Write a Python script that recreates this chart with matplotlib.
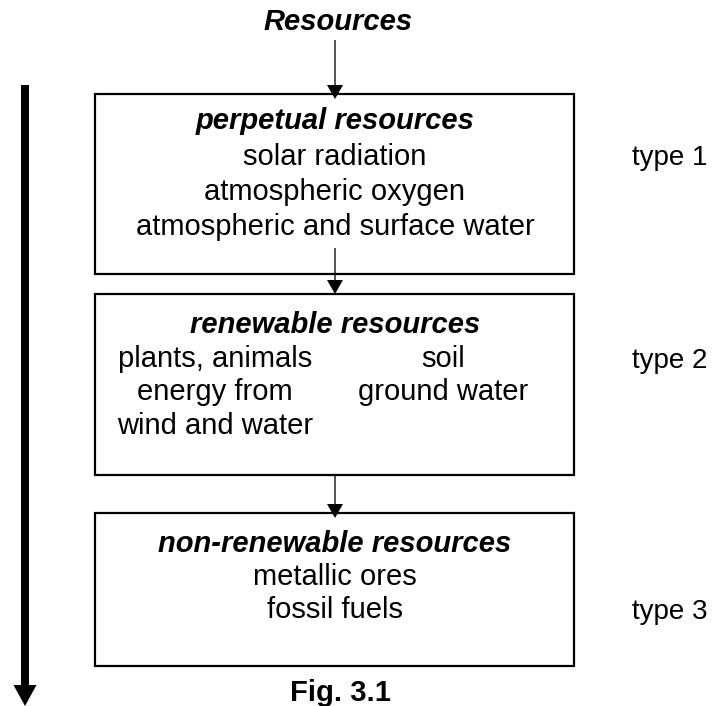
import matplotlib
matplotlib.use("Agg")
import matplotlib.pyplot as plt
from matplotlib.patches import Rectangle

plt.rcParams['font.family'] = ['Liberation Sans', 'DejaVu Sans']

# ---- content ----
top_label = "Resources"
box_titles = ["perpetual resources", "renewable resources", "non-renewable resources"]
box1_items = ["solar radiation", "atmospheric oxygen", "atmospheric and surface water"]
box2_left_items = ["plants, animals", "energy from", "wind and water"]
box2_right_items = ["soil", "ground water"]
box3_items = ["metallic ores", "fossil fuels"]
type_labels = ["type 1", "type 2", "type 3"]
caption = "Fig. 3.1"

# ---- layout (pixel coordinates, y downward; text y = baseline) ----
W, H = 716, 706
box_left, box_right = 95, 574
box_tops = [94, 294, 513]
box_bottoms = [274, 475, 666]
center_x = 335
type_x = 670
type_y = [165, 368, 619]
fs = 21
lh = 34

fig = plt.figure(figsize=(W / 100, H / 100), dpi=100)
ax = fig.add_axes([0, 0, 1, 1])
ax.set_xlim(0, W)
ax.set_ylim(H, 0)
ax.axis('off')

for t, b in zip(box_tops, box_bottoms):
    ax.add_patch(Rectangle((box_left, t), box_right - box_left, b - t,
                           fill=False, edgecolor='black', linewidth=1.6))

bi = dict(fontweight='bold', fontstyle='italic')

# title
ax.text(center_x + 3, 30, top_label, ha='center', va='baseline', fontsize=fs, **bi)

# box 1
ax.text(center_x, 129, box_titles[0], ha='center', va='baseline', fontsize=fs, **bi)
for i, s in enumerate(box1_items):
    ax.text(center_x, 165 + i * 35, s, ha='center', va='baseline', fontsize=fs)

# box 2
ax.text(center_x, 333, box_titles[1], ha='center', va='baseline', fontsize=fs, **bi)
for i, s in enumerate(box2_left_items):
    ax.text(215, 367 + i * 33.5, s, ha='center', va='baseline', fontsize=fs)
for i, s in enumerate(box2_right_items):
    ax.text(443, 367 + i * 33.5, s, ha='center', va='baseline', fontsize=fs)

# box 3
ax.text(center_x, 552, box_titles[2], ha='center', va='baseline', fontsize=fs, **bi)
for i, s in enumerate(box3_items):
    ax.text(center_x, 585 + i * 33.5, s, ha='center', va='baseline', fontsize=fs)

# type labels
for s, y in zip(type_labels, type_y):
    ax.text(type_x, y, s, ha='center', va='baseline', fontsize=20)

# caption
ax.text(center_x + 5, 701, caption, ha='center', va='baseline', fontsize=fs,
        fontweight='bold')

# connecting arrows
arrow_segs = [(40, 99), (248, 294), (475, 518)]
for y0, y1 in arrow_segs:
    ax.arrow(center_x, y0, 0, y1 - y0, width=1.3, head_width=16, head_length=14,
             length_includes_head=True, color='black', linewidth=0)

# thick side arrow
ax.arrow(25, 85, 0, 706 - 85, width=8, head_width=23, head_length=21,
         length_includes_head=True, color='black', linewidth=0)

fig.savefig("out.png", dpi=100)
